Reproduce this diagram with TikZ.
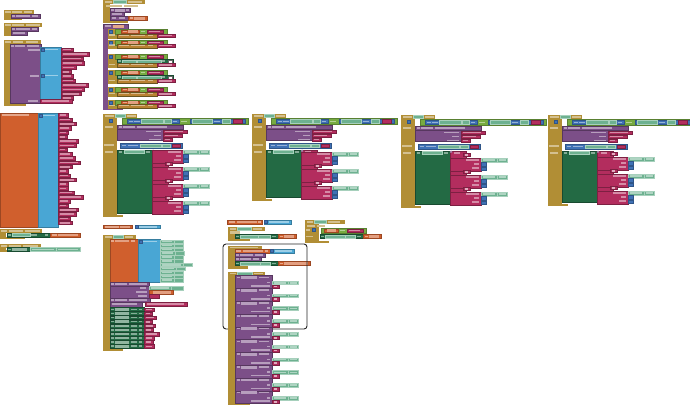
\documentclass[tikz,border=0pt]{standalone}
\usepackage{tikz}
\definecolor{evgold}{HTML}{B18E35}
\definecolor{procpurp}{HTML}{7C4F88}
\definecolor{setgreen}{HTML}{236A44}
\definecolor{getgreen}{HTML}{6DB190}
\definecolor{txtmag}{HTML}{B32D5E}
\definecolor{lstblue}{HTML}{49A6D4}
\definecolor{varorange}{HTML}{D05F2D}
\definecolor{mathblue}{HTML}{3F71B5}
\definecolor{logicgreen}{HTML}{77AB41}
\tikzset{
  blk/.style={line width=.3pt},
  gd/.style={blk,fill=evgold,draw=evgold!75!black},
  gdc/.style={fill=evgold!55!white},
  pp/.style={blk,fill=procpurp,draw=procpurp!70!black},
  ppc/.style={fill=procpurp!55!white},
  sg/.style={blk,fill=setgreen,draw=setgreen!70!black},
  gg/.style={blk,fill=getgreen,draw=getgreen!60!white},
  mg/.style={blk,fill=txtmag,draw=txtmag!70!black},
  lb/.style={blk,fill=lstblue,draw=lstblue!75!black},
  vo/.style={blk,fill=varorange,draw=varorange!75!black},
  vs/.style={blk,fill=evgold!75!varorange,draw=evgold!60!black},
  mb/.style={blk,fill=mathblue,draw=mathblue!75!black},
  lg/.style={blk,fill=logicgreen,draw=logicgreen!75!black},
  lbl/.style={fill=white,opacity=.45},
  outline/.style={draw=black!85,line width=.9pt,rounded corners=3pt}
}
\newcommand{\bk}[5]{\filldraw[#1] (#2,#3) rectangle ++(#4,#5);}
\newcommand{\tx}[3]{\fill[lbl] (#1,#2) rectangle ++(#3,1.6);}
\newcommand{\quo}[2]{\bk{mg}{#1}{#2}{7}{3.6}\fill[white,opacity=.6] (#1+1.8,#2+.9) rectangle ++(3.4,1.8);}
\newcommand{\evframe}[5]{%
  \fill[evgold] (#1,#2) rectangle ++(#3,4);
  \fill[evgold] (#1,#2) rectangle ++(#5,#4);
  \fill[evgold] (#1,#2+#4-2.5) rectangle ++(0.6*#3,2.5);}
\newcommand{\ifcol}[5]{%
  \begin{scope}[shift={(#1,#2)}]
    \evframe{0}{0}{34}{#4}{14}
    \tx{2}{1}{9}\bk{gg}{12}{.6}{10}{2.8}\tx{24}{1}{9}
    \bk{mb}{6.5}{5}{3}{3}
    \bk{lg}{19}{4}{126}{6.5}
    \bk{mb}{24}{5}{52}{4.5}\tx{26}{6.5}{4}\tx{31}{6.5}{6}\bk{gg}{38}{5.6}{22}{3.2}\bk{gg}{61}{5.6}{7}{3.2}\tx{70}{6.5}{4}
    \tx{78}{6.5}{6}
    \bk{mb}{87}{5}{55}{4.5}\bk{gg}{89}{5.6}{20}{3.2}\tx{111}{6.5}{6}\bk{gg}{119}{5.6}{8}{3.2}\bk{mg}{130}{5.6}{9}{3.2}
    \tx{2}{12}{8}
    \bk{pp}{14}{11}{66}{4}\tx{16}{12}{3}\fill[ppc] (20,11.6) rectangle ++(12,2.8);\tx{34}{12}{30}
    \bk{pp}{14}{15}{46}{11}
    \tx{43}{16.8}{15}\tx{51}{20.8}{7}\tx{46}{24.6}{12}
    \bk{mg}{60}{15.8}{24}{3.6}\tx{62}{16.8}{18}
    \bk{mg}{60}{19.8}{19}{3.6}\tx{62}{20.8}{13}
    \bk{mg}{60}{23.8}{9}{3.6}\tx{62}{24.8}{5}
    \tx{1}{30}{10}
    \bk{mb}{17}{29}{62}{5}\tx{19}{30.7}{4}\tx{25}{30.7}{10}\bk{gg}{37}{29.7}{21}{3.2}\bk{gg}{59}{29.7}{8}{3.2}\bk{mg}{69}{29.7}{8}{3.2}
    \tx{2}{37}{8}
    \bk{sg}{14}{36}{35}{#4-40}
    \tx{16}{37}{3}\bk{gg}{21}{36.6}{20}{3}\tx{43}{37}{4}
    \bk{mg}{49}{36}{16}{#4-40}
    \fill[procpurp!70!white] (50,36.8) circle (1.3);\tx{53}{37}{6}
    \foreach \i in {1,...,#3}{
      \pgfmathsetmacro\yy{#5+(\i-1)*17}
      \bk{mg}{49}{\yy}{31}{13}
      \tx{65}{\yy+1.2}{13}\tx{73}{\yy+5.3}{5}\tx{71}{\yy+9.4}{7}
      \bk{gg}{80}{\yy}{16}{4}\bk{gg}{96}{\yy}{10}{4}\tx{82}{\yy+1.2}{12}\tx{97.5}{\yy+1.2}{7}
      \bk{mb}{80}{\yy+4.5}{5}{3.6}
      \bk{mb}{80}{\yy+9}{5}{3.6}
      \ifnum\i>1 \quo{62}{\yy-5}\fi
    }
  \end{scope}}

\begin{document}
\begin{tikzpicture}[x=1pt,y=-1pt]
\fill[white] (0,0) rectangle (690,404);
\useasboundingbox (0,0) rectangle (690,404);

% left column
\evframe{4}{10}{30}{10}{7}
\tx{5}{11}{6}\fill[gdc] (12,10.8) rectangle ++(10,2.4);\tx{24}{11}{8}
\bk{pp}{11}{14}{29}{4}\tx{12}{15}{3}\fill[ppc] (16,14.6) rectangle ++(14,2.8);\tx{32}{15}{6}
\evframe{4}{23}{38}{13}{7}
\tx{5}{24}{6}\fill[gdc] (12,23.8) rectangle ++(12,2.4);\tx{26}{24}{14}
\bk{pp}{11}{27}{27}{4}\tx{12}{28}{3}\fill[ppc] (16,27.6) rectangle ++(14,2.8);\tx{32}{28}{5}
\bk{pp}{11}{31}{16}{4}\tx{13}{32}{12}
\evframe{4}{40}{37}{66}{6}
\tx{5}{41}{6}\fill[gdc] (13,40.8) rectangle ++(10,2.4);\tx{26}{41}{12}
\bk{pp}{10}{44}{31}{59}\tx{11}{45}{3}\fill[ppc] (15,44.6) rectangle ++(10,2.8);\tx{27}{45}{12}
\tx{28}{49}{12}\tx{30}{75}{9}\tx{28}{100}{10}
\bk{lb}{40}{47}{21}{53}\bk{mb}{41}{48}{3}{3}\tx{45}{48.7}{13}\bk{mb}{41}{74}{3}{3}\tx{45}{74.7}{13}
\foreach \w [count=\i from 0] in {12,28,22,23,15,10,12,14,27,23,20,12}{
  \bk{mg}{61}{48+\i*4.4}{\w}{3.6}\fill[white,opacity=.45] (63,48.9+\i*4.4) rectangle ++(\w-4.5,1.6);
}
\bk{mg}{40}{99.5}{32}{3.4}\tx{42}{100.3}{27}

\bk{vo}{0}{113}{38}{114}\tx{2}{114}{27}
\bk{lb}{38}{113}{20}{114}\bk{mb}{39}{114}{3}{3}\tx{43}{114.7}{12}
\foreach \w [count=\i from 0] in {10,14,18,13,10,9,20,18,9,14,17,22,14,10,12,18,10,10,16,25,12,10,20,18,12,14}{
  \bk{mg}{58}{113.5+\i*4.3}{\w}{3.5}\fill[white,opacity=.45] (60,114.4+\i*4.3) rectangle ++(\w-4.5,1.6);
}

\evframe{0}{229}{42}{10}{6}
\tx{1}{230}{6}\fill[gdc] (9,229.8) rectangle ++(14,2.4);\fill[gdc] (25,229.8) rectangle ++(15,2.4);
\bk{sg}{7}{233}{43}{4}\tx{8}{234}{3}\bk{gg}{12}{233.6}{18}{2.8}\tx{31}{234}{6}\tx{45}{234}{3}
\bk{vo}{50}{233}{30}{4}\tx{52}{234}{5}\fill[varorange!60!white] (58,233.6) rectangle ++(20,2.8);
\evframe{0}{244}{41}{8}{6}
\tx{1}{245}{6}\fill[gdc] (9,244.8) rectangle ++(12,2.4);\fill[gdc] (23,244.8) rectangle ++(15,2.4);
\bk{sg}{7}{247.5}{23}{4}\tx{8}{248.5}{3}\fill[setgreen!50!white] (12,248.1) rectangle ++(15,2.8);
\bk{gg}{30}{247.5}{26}{4}\bk{gg}{56}{247.5}{24}{4}\tx{32}{248.5}{22}\tx{58}{248.5}{20}

% second column top
\evframe{103}{0}{42}{23}{7}
\tx{105}{1}{7}\bk{gg}{113}{.6}{13}{2.8}\tx{128}{1}{14}
\fill[gdc] (106,4.8) rectangle ++(16,2.6);\fill[gdc] (124,4.8) rectangle ++(14,2.6);
\bk{pp}{110}{8.5}{20}{4}\tx{111}{9.5}{3}\fill[ppc] (115,9.1) rectangle ++(10,2.8);\tx{126}{9.5}{3}
\bk{pp}{110}{12.5}{14}{4}\tx{112}{13.5}{10}
\bk{pp}{110}{16.5}{18}{4}\tx{112}{17.5}{4}\tx{119}{17.5}{6}
\bk{vo}{128}{16.5}{19}{4}\tx{130}{17.5}{3}\fill[varorange!60!white] (134,17.1) rectangle ++(11,2.8);

\bk{pp}{103}{24.5}{25}{4.5}\tx{105}{25.5}{6}\fill[varorange!55!white] (113,25.2) rectangle ++(11,3);
\fill[procpurp] (103,29) rectangle ++(5,80);\fill[procpurp] (103,107) rectangle ++(20,3);
\foreach \yy/\hh/\st/\bx in {29/10/0/0, 40/9/0/0, 54/14/1/1, 70/14/1/0, 87/10/0/1, 100/9/0/0}{
  \fill[evgold] (108,\yy) rectangle ++(9,\hh);
  \fill[evgold] (108,\yy+\hh-1.2) rectangle ++(16,1.2);
  \bk{mb}{109.5}{\yy+.8}{3}{3}
  \bk{lg}{115}{\yy}{52}{5}
  \bk{vo}{121}{\yy+.8}{18}{3.4}\tx{123}{\yy+1.7}{4}\fill[varorange!60!white] (128,\yy+1.3) rectangle ++(10,2.4);
  \tx{141}{\yy+1.7}{4}
  \bk{mg}{147}{\yy+.8}{16}{3.4}\fill[white,opacity=.45] (149,\yy+1.7) rectangle ++(11,1.6);
  \ifnum\st=1
    \bk{sg}{117}{\yy+5.3}{56}{4}\tx{118}{\yy+6.3}{3}\bk{gg}{122}{\yy+5.9}{14}{2.8}\bk{gg}{137}{\yy+5.9}{24}{2.8}\tx{162}{\yy+6.3}{3}
    \filldraw[fill=white,draw=black!60,line width=.3pt] (168,\yy+5.8) rectangle ++(4,3);
  \fi
  \tx{109}{\yy+\hh-4.5}{6}
  \bk{vs}{117}{\yy+\hh-5.2}{40}{4}\tx{119}{\yy+\hh-4.4}{10}\tx{131}{\yy+\hh-4.4}{14}\tx{148}{\yy+\hh-4.4}{5}
  \bk{mg}{157}{\yy+\hh-5}{18}{3.6}\fill[white,opacity=.45] (159,\yy+\hh-4.1) rectangle ++(13,1.6);
}

% if blocks
\ifcol{103}{114}{4}{103}{36}
\ifcol{252}{114}{3}{87}{38}
\ifcol{401}{115}{3}{93}{43}
\ifcol{548}{115}{3}{91}{42}
\quo{463}{153}
\quo{610}{152}

% lower middle
\bk{vo}{103}{225}{29}{3.6}\tx{105}{225.9}{14}\fill[varorange!60!white] (120,225.5) rectangle ++(10,2.6);
\bk{lb}{135}{225}{25}{3.6}\bk{mb}{135.5}{225.3}{2.8}{2.8}\tx{139}{225.9}{18}
\evframe{103}{235}{33}{116}{7}
\tx{105}{236}{7}\bk{gg}{113}{235.6}{10}{2.8}\tx{125}{236}{8}
\bk{vo}{110}{239}{28}{43}\tx{111}{240}{3}\fill[varorange!60!white] (115,239.6) rectangle ++(14,2.8);\tx{131}{240}{4}
\bk{lb}{138}{239}{22}{43}\bk{mb}{139}{240}{3}{3}\tx{143}{240.5}{14}
\foreach \w [count=\i from 0] in {23,23,23,24,23,23,32,25,23,23,23}{
  \bk{gg}{160}{240+\i*3.85}{\w-9}{3.4}\bk{gg}{151+\w}{240+\i*3.85}{9}{3.4}
  \fill[white,opacity=.45] (162,240.9+\i*3.85) rectangle ++(\w-13,1.5);
}
\bk{pp}{110}{282}{39}{4}\tx{111}{283}{3}\fill[ppc] (115,282.6) rectangle ++(12,2.8);\tx{129}{283}{18}
\bk{pp}{110}{286}{39}{12}\tx{140}{287}{6}\tx{136}{291}{11}\tx{138}{295}{9}
\bk{gg}{149}{286.5}{22}{3.5}\bk{gg}{171}{286.5}{12}{3.5}\tx{151}{287.4}{18}
\bk{vo}{149}{290.5}{24}{3.5}\fill[varorange!60!white] (153,291.1) rectangle ++(18,2.4);
\bk{mg}{149}{294.5}{10}{3.5}
\bk{pp}{110}{298}{40}{4}\tx{111}{299}{3}\fill[ppc] (115,298.6) rectangle ++(12,2.8);\tx{129}{299}{18}
\bk{pp}{110}{302}{32}{5}\tx{112}{303.2}{25}
\bk{mg}{145}{302.5}{42}{3.5}\fill[white,opacity=.45] (147,303.4) rectangle ++(37,1.6);
\foreach \w [count=\i from 0] in {7,5,9,5,8,6,12,7,6,7}{
  \bk{sg}{110}{307.5+\i*4.1}{34}{3.8}\tx{111}{308.5+\i*4.1}{3}
  \fill[setgreen!50!white] (115,308.1+\i*4.1) rectangle ++(14,2.6);\tx{131}{308.5+\i*4.1}{6}\tx{139}{308.5+\i*4.1}{3}
  \bk{mg}{144}{307.7+\i*4.1}{\w+3}{3.4}\fill[white,opacity=.5] (146,308.6+\i*4.1) rectangle ++(\w-1,1.6);
}

% right lower
\bk{vo}{227}{220}{35}{4}\tx{229}{221}{6}\fill[varorange!60!white] (237,220.6) rectangle ++(20,2.8);\tx{258}{221}{3}
\bk{lb}{264}{220}{27}{4}\bk{mb}{264.5}{220.5}{3}{3}\tx{268.5}{221}{20}
\evframe{228}{227}{37}{14}{7}
\tx{230}{228}{6}\bk{gg}{237}{227.6}{14}{2.8}\tx{253}{228}{9}
\fill[gdc] (230,231.2) rectangle ++(10,2.4);
\bk{sg}{235}{234.5}{43}{4}\tx{236}{235.5}{3}\bk{gg}{240}{235.1}{18}{2.8}\bk{gg}{258}{235.1}{12}{2.8}\tx{272}{235.5}{4}
\bk{vo}{278}{234.5}{18}{4}\tx{280}{235.5}{3}\fill[varorange!60!white] (284,235.1) rectangle ++(10,2.8);

\evframe{228}{245.5}{34}{23}{7}
\tx{230}{246.5}{28}
\bk{vo}{235}{249}{35}{4}\tx{236}{250}{5}\fill[varorange!60!white] (243,249.6) rectangle ++(20,2.8);\tx{265}{250}{3}
\bk{lb}{270}{249}{24}{4}\bk{mb}{270.5}{249.5}{3}{3}\tx{275}{250}{17}
\bk{pp}{235}{253}{30}{4}\tx{236}{254}{3}\fill[ppc] (240,253.6) rectangle ++(13,2.8);\tx{255}{254}{8}
\bk{pp}{235}{257}{26}{4}\tx{236}{258}{3}\fill[ppc] (240,257.6) rectangle ++(11,2.8);\tx{253}{258}{6}
\bk{sg}{235}{261.5}{43}{4}\tx{236}{262.5}{3}\bk{gg}{240}{262.1}{20}{2.8}\bk{gg}{260}{262.1}{10}{2.8}\tx{272}{262.5}{4}
\bk{vo}{278}{261.5}{32}{4}\tx{280}{262.5}{3}\fill[varorange!60!white] (284,262.1) rectangle ++(24,2.8);
\draw[outline] (223,244) rectangle (307,329);

\evframe{228}{271.5}{37}{133}{7}
\tx{230}{272.5}{6}\bk{gg}{237}{272.1}{15}{2.8}\tx{254}{272.5}{9}
\foreach \i in {0,...,9}{
  \pgfmathsetmacro\yy{275.5+\i*12.8}
  \bk{pp}{235}{\yy}{37}{12.8}
  \tx{236.5}{\yy+1}{3}\fill[ppc] (241,\yy+.6) rectangle ++(16,2.8);\tx{259}{\yy+1}{10}
  \tx{267}{\yy+6.3}{3}\tx{251}{\yy+9.6}{19}
  \bk{gg}{272}{\yy+5.5}{16}{3.5}\bk{gg}{288}{\yy+5.5}{10}{3.5}\tx{274}{\yy+6.4}{12}\tx{289.5}{\yy+6.4}{7}
  \quo{272}{\yy+9.2}
}

\evframe{305}{220}{40}{23}{14}
\tx{307}{221}{6}\bk{gg}{314}{220.6}{12}{2.8}\tx{328}{221}{12}
\fill[gdc] (307,224.6) rectangle ++(8,2.4);\fill[gdc] (317,224.6) rectangle ++(8,2.4);
\bk{mb}{312}{228.6}{3}{3}\tx{306}{229.4}{4}
\bk{lg}{321}{228}{45}{5}
\bk{vo}{324}{228.8}{14}{3.4}\fill[varorange!60!white] (327,229.3) rectangle ++(9,2.4);
\tx{340}{229.7}{5}
\bk{mg}{347}{228.8}{16}{3.4}\fill[white,opacity=.45] (349,229.7) rectangle ++(11,1.6);
\tx{306}{235.5}{7}
\bk{sg}{320}{234.5}{43}{4}\tx{321}{235.5}{3}\bk{gg}{325}{235.1}{20}{2.8}\bk{gg}{345}{235.1}{10}{2.8}\tx{357}{235.5}{4}
\bk{vo}{363}{234.5}{18}{4}\tx{365}{235.5}{3}\fill[varorange!60!white] (369,235.1) rectangle ++(10,2.8);
\end{tikzpicture}
\end{document}
